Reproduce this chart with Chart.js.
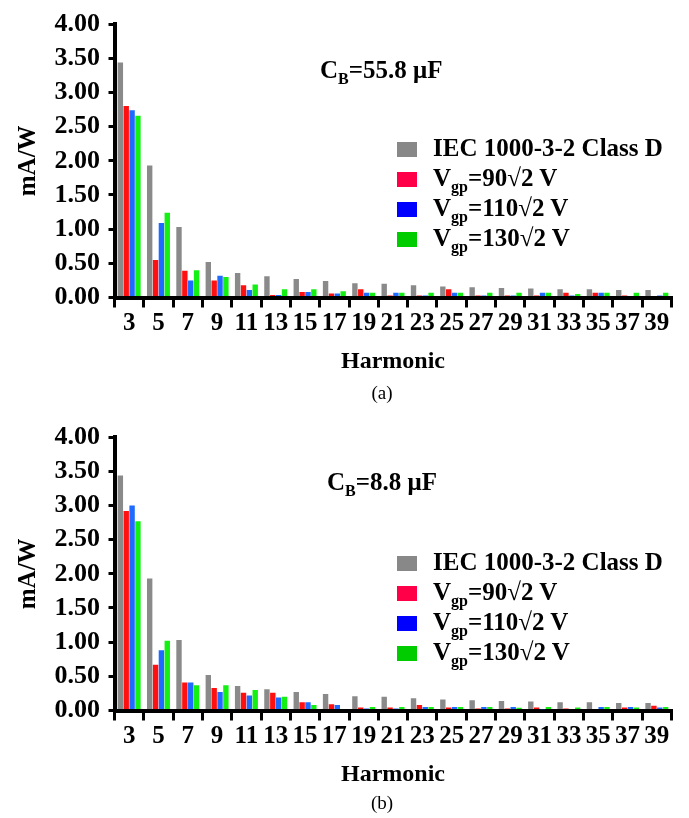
<!DOCTYPE html>
<html>
<head>
<meta charset="utf-8">
<script src="https://cdn.jsdelivr.net/npm/chart.js@4.4.1/dist/chart.umd.min.js"></script>
<style>
  body { margin: 0; background: #fff; width: 689px; height: 818px; position: relative; overflow: hidden;
         font-family: "Liberation Serif", "Times New Roman", serif; color: #000; }
  canvas { position: absolute; left: 0; }
  #chartA { top: 0; }
  #chartB { top: 413px; }
  .note { position: absolute; font-weight: bold; font-size: 25px; line-height: 30px; white-space: nowrap; }
  .note sub, .legend sub { font-size: 16px; vertical-align: -6px; line-height: 0; }
  .legend { position: absolute; left: 397px; font-weight: bold; font-size: 25px; }
  .legend div { height: 30px; line-height: 30px; white-space: nowrap; }
  .legend .box { display: inline-block; width: 20px; height: 15px; margin-right: 16px; vertical-align: -1px; }
  .cap { position: absolute; left: 352px; width: 60px; text-align: center; font-size: 19px; line-height: 24px; }
</style>
</head>
<body>
<canvas id="chartA" width="689" height="400"></canvas>
<canvas id="chartB" width="689" height="400"></canvas>

<div class="note" style="left:320px; top:55px;">C<sub>B</sub>=55.8 μF</div>
<div class="note" style="left:327px; top:467px;">C<sub>B</sub>=8.8 μF</div>
<div class="legend" id="legendA" style="top:133px;"></div>
<div class="legend" id="legendB" style="top:547px;"></div>
<div class="cap" style="top:381px;">(a)</div>
<div class="cap" style="top:791px;">(b)</div>

<script>
var harmonics = ["3", "5", "7", "9", "11", "13", "15", "17", "19", "21", "23", "25", "27", "29", "31", "33", "35", "37", "39"];

var seriesLabels = ["IEC 1000-3-2 Class D", "Vgp=90√2 V", "Vgp=110√2 V", "Vgp=130√2 V"];
var barColors = ["#8a8a8a", "#ff1010", "#1f6bff", "#14f014"];
var legendColors = ["#888888", "#ff0048", "#0000ff", "#00cc00"];

var yTicks = [0, 0.5, 1, 1.5, 2, 2.5, 3, 3.5, 4];

// IEC class D limit (same in both plots)
var iecLimit = [3.44, 1.93, 1.03, 0.52, 0.36, 0.31, 0.27, 0.24, 0.21, 0.20, 0.18, 0.16, 0.15, 0.14, 0.13, 0.12, 0.12, 0.11, 0.11];

// (a) CB = 55.8 uF
var v90a = [2.80, 0.55, 0.39, 0.25, 0.18, 0.035, 0.08, 0.06, 0.12, 0.03, 0.03, 0.12, 0.03, 0.03, 0.03, 0.07, 0.07, 0.03, 0];
var v110a = [2.74, 1.09, 0.25, 0.32, 0.11, 0.035, 0.08, 0.06, 0.07, 0.07, 0.03, 0.07, 0.03, 0.03, 0.07, 0.03, 0.07, 0, 0.03];
var v130a = [2.66, 1.24, 0.40, 0.30, 0.19, 0.12, 0.12, 0.09, 0.07, 0.07, 0.07, 0.07, 0.07, 0.07, 0.07, 0.05, 0.07, 0.07, 0.07];

// (b) CB = 8.8 uF
var v90b = [2.92, 0.67, 0.41, 0.33, 0.26, 0.26, 0.12, 0.09, 0.045, 0.045, 0.08, 0.045, 0.03, 0.03, 0.045, 0.03, 0, 0.045, 0.07];
var v110b = [3.00, 0.88, 0.41, 0.27, 0.22, 0.19, 0.12, 0.08, 0.03, 0.03, 0.05, 0.05, 0.05, 0.05, 0.02, 0, 0.05, 0.05, 0.045];
var v130b = [2.77, 1.02, 0.37, 0.37, 0.30, 0.20, 0.08, 0, 0.05, 0.05, 0.05, 0.05, 0.05, 0.04, 0.05, 0.045, 0.05, 0.045, 0.05];

var serif = '"Liberation Serif", "Times New Roman", serif';

function makeChart(id, series) {
  var context = document.getElementById(id).getContext("2d");
  return new Chart(context, {
    type: "bar",
    data: {
      labels: harmonics,
      datasets: series.map(function (values, i) {
        return {
          label: seriesLabels[i],
          data: values,
          backgroundColor: barColors[i],
          borderWidth: 0,
          categoryPercentage: 0.8,
          barPercentage: 0.92,
        };
      }),
    },
    options: {
      responsive: false,
      animation: false,
      layout: { padding: { left: 0, right: 17.5, top: 0, bottom: 0 } },
      plugins: { legend: { display: false }, tooltip: { enabled: false } },
      scales: {
        x: {
          grid: { drawOnChartArea: false, color: "#000", lineWidth: 3, tickLength: 10 },
          border: { color: "#000", width: 4 },
          ticks: { color: "#000", font: { family: serif, size: 25, weight: "bold" }, maxRotation: 0, autoSkip: false, padding: 1 },
          title: { display: true, text: "Harmonic", color: "#000", font: { family: serif, size: 24, weight: "bold" }, padding: { top: 0, bottom: 23.6 } },
          afterFit: function (s) { s.height = 102.5; },
        },
        y: {
          min: yTicks[0],
          max: yTicks[yTicks.length - 1],
          grid: { drawOnChartArea: false, color: "#000", lineWidth: 3, tickLength: 6 },
          border: { color: "#000", width: 4 },
          afterBuildTicks: function (s) { s.ticks = yTicks.map(function (v) { return { value: v }; }); },
          ticks: {
            autoSkip: false,
            color: "#000",
            font: { family: serif, size: 26, weight: "bold" },
            padding: 8.5,
            callback: function (v) { return Number(v).toFixed(2); },
          },
          title: { display: true, text: "mA/W", color: "#000", font: { family: serif, size: 25, weight: "bold" }, padding: { top: 14, bottom: 0 } },
          afterFit: function (s) { s.width = 114.5; },
        },
      },
    },
  });
}

function buildLegend(id) {
  var html = "";
  seriesLabels.forEach(function (label, i) {
    var text = label.replace("Vgp", "V<sub>gp</sub>");
    html += '<div><span class="box" style="background:' + legendColors[i] + '"></span>' + text + "</div>";
  });
  document.getElementById(id).innerHTML = html;
}

makeChart("chartA", [iecLimit, v90a, v110a, v130a]);
makeChart("chartB", [iecLimit, v90b, v110b, v130b]);
buildLegend("legendA");
buildLegend("legendB");
</script>
</body>
</html>
